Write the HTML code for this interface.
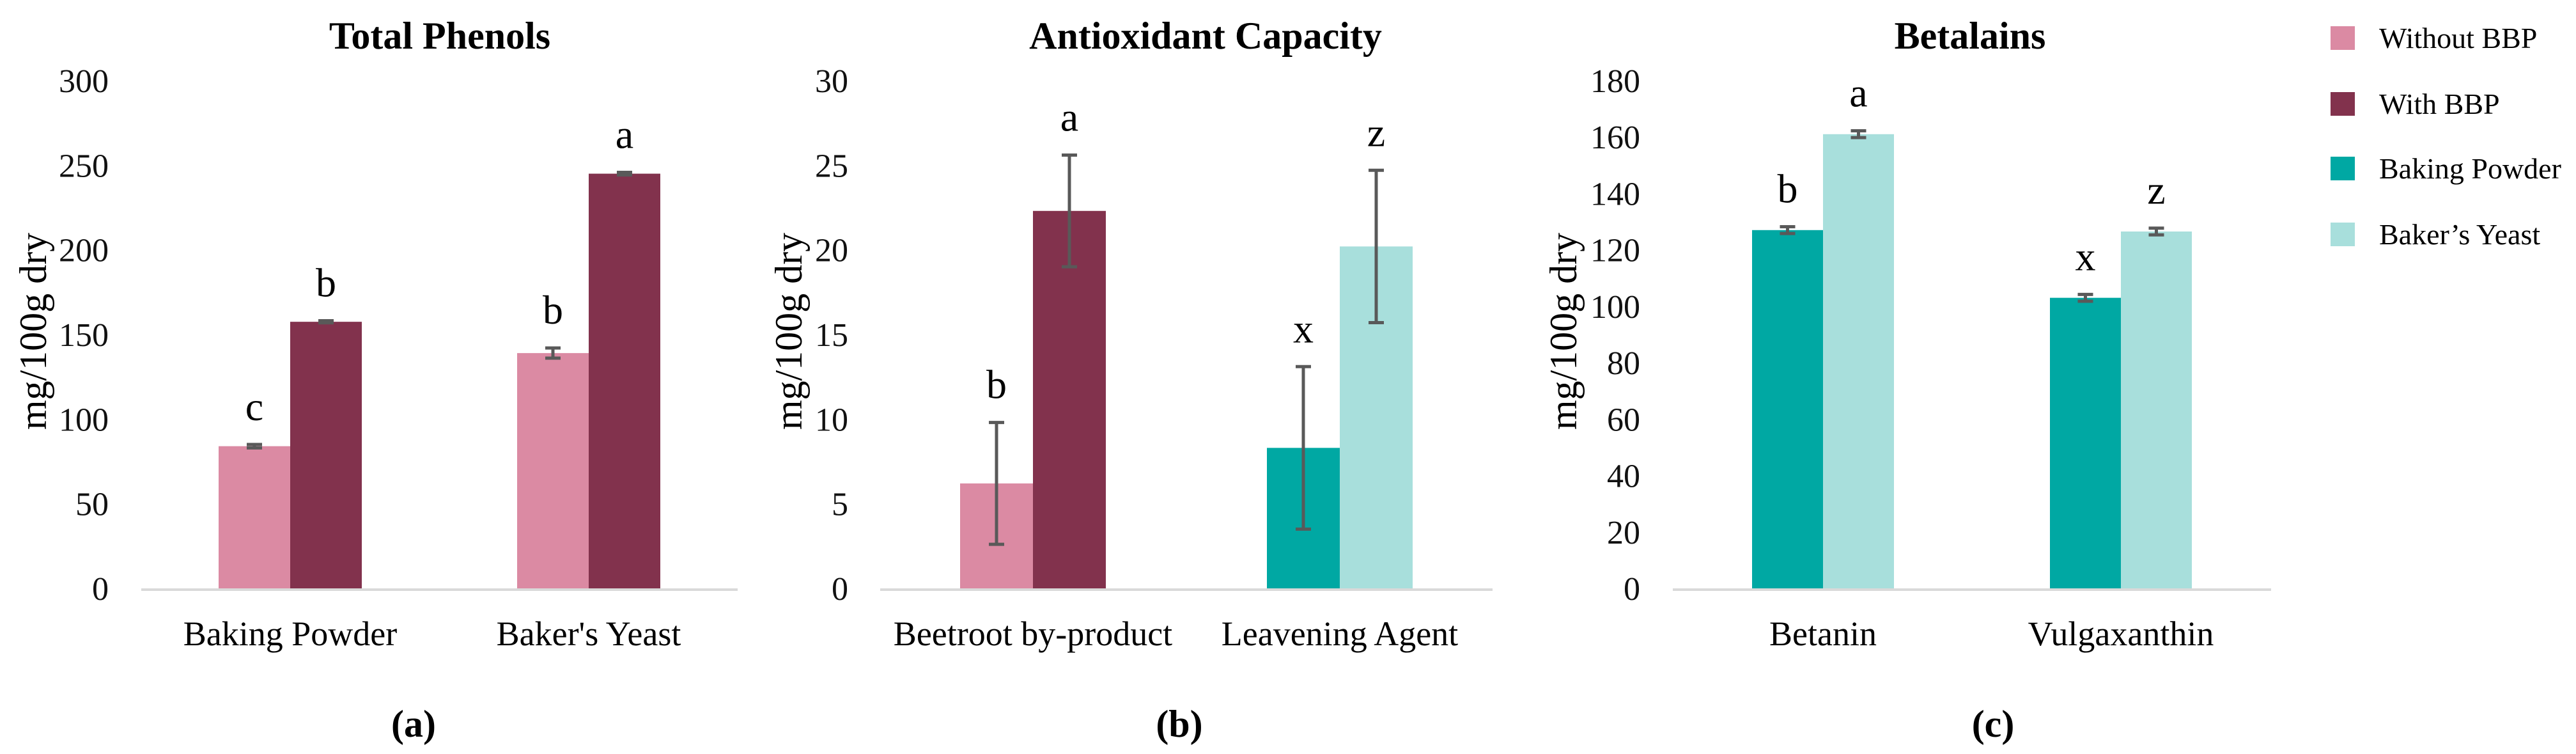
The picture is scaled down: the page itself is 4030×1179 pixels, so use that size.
<!DOCTYPE html>
<html><head><meta charset="utf-8"><style>
html,body{margin:0;padding:0;background:#fff;}
svg{display:block;font-family:"Liberation Serif",serif;}
</style></head><body>
<svg id="chart" width="4030" height="1179" viewBox="0 0 4030 1179" xmlns="http://www.w3.org/2000/svg"></svg>
<script>
const colors = ["#db8aa3","#82324d","#00a8a3","#a8dfdc"];
// Panel (a) Total Phenols
const catsA = ["Baking Powder","Baker's Yeast"];
const valsA = [[84,157.5],[139,245]];
const errsA = [[1,0.6],[3,0.8]];
const lettersA = [["c","b"],["b","a"]];
const ticksA = [0,50,100,150,200,250,300];
// Panel (b) Antioxidant Capacity
const catsB = ["Beetroot by-product","Leavening Agent"];
const valsB = [[6.2,22.3],[8.3,20.2]];
const errsB = [[3.6,3.3],[4.8,4.5]];
const lettersB = [["b","a"],["x","z"]];
const ticksB = [0,5,10,15,20,25,30];
// Panel (c) Betalains
const catsC = ["Betanin","Vulgaxanthin"];
const valsC = [[127,161],[103,126.5]];
const errsC = [[1.2,1.2],[1.2,1.2]];
const lettersC = [["b","a"],["x","z"]];
const ticksC = [0,20,40,60,80,100,120,140,160,180];
const legendLabels = ["Without BBP","With BBP","Baking Powder","Baker\u2019s Yeast"];

const svg = document.getElementById('chart');
const NS = "http://www.w3.org/2000/svg";
function mk(tag, attrs, parent){const e=document.createElementNS(NS,tag);for(const k in attrs)e.setAttribute(k,attrs[k]);(parent||svg).appendChild(e);return e;}
function txt(s, attrs, parent){const e=mk('text',attrs,parent);e.textContent=s;return e;}

function panel(cfg){
  const g=mk('g',{});
  
  
  const y0=920, y1=126, max=cfg.ticks[cfg.ticks.length-1];
  const yS=v=>y0-(v/max)*(y0-y1);
  const t=txt(cfg.title,{x:cfg.titleX,y:76,'text-anchor':'middle','font-size':60,'font-weight':'bold'},g);
  
  
  cfg.ticks.forEach(v=>{
    const l=txt(String(v),{x:cfg.tickX,y:yS(v)+18,'text-anchor':'end','font-size':52,fill:'#111'},g);
    
    
  });
  const yl=txt('mg/100g dry',{x:0,y:0,transform:`translate(${cfg.ylabX},518) rotate(-90)`,'text-anchor':'middle','font-size':60},g);
  
  
  const ax=mk('line',{x1:cfg.axX0,x2:cfg.axX1,y1:y0+2,y2:y0+2,stroke:'#d9d9d9','stroke-width':4},g);
  
  
  cfg.cats.forEach((c,i)=>{
    const gx=cfg.groupX[i];
    for(let j=0;j<2;j++){
      const v=cfg.vals[i][j], e=cfg.errs[i][j];
      const x=gx+j*cfg.bw;
      const r=mk('rect',{x:x,y:yS(v),width:cfg.bw,height:y0-yS(v),fill:colors[cfg.colIdx[i][j]]},g);
      
      
      const cx=x+cfg.bw/2;
      const eb=mk('path',{d:`M${cx-12},${yS(v+e)}H${cx+12}M${cx},${yS(v+e)}V${yS(v-e)}M${cx-12},${yS(v-e)}H${cx+12}`,stroke:'#595959','stroke-width':5,fill:'none'},g);
      
      
      const lt=txt(cfg.letters[i][j],{x:cx,y:yS(v+e)-38,'text-anchor':'middle','font-size':64},g);
      
      
    }
    const cl=txt(c,{x:gx+cfg.bw,y:1009,'text-anchor':'middle','font-size':54},g);
    
    
  });
  const pl=txt(cfg.label,{x:cfg.labelX,y:1152,'text-anchor':'middle','font-size':60,'font-weight':'bold'},g);
  
  
}

panel({name:'panel-a-total-phenols',title:'Total Phenols',titleX:688,tickX:170,ylabX:72,axX0:221,axX1:1154,
  cats:catsA,vals:valsA,errs:errsA,letters:lettersA,ticks:ticksA,groupX:[342,809],bw:112,colIdx:[[0,1],[0,1]],label:'(a)',labelX:647});
panel({name:'panel-b-antioxidant-capacity',title:'Antioxidant Capacity',titleX:1886,tickX:1327,ylabX:1254,axX0:1377,axX1:2335,
  cats:catsB,vals:valsB,errs:errsB,letters:lettersB,ticks:ticksB,groupX:[1502,1982],bw:114,colIdx:[[0,1],[2,3]],label:'(b)',labelX:1845});
panel({name:'panel-c-betalains',title:'Betalains',titleX:3082,tickX:2566,ylabX:2466,axX0:2617,axX1:3553,
  cats:catsC,vals:valsC,errs:errsC,letters:lettersC,ticks:ticksC,groupX:[2741,3207],bw:111,colIdx:[[2,3],[2,3]],label:'(c)',labelX:3118});

const lg=mk('g',{});


const legY=[41,144,245,348];
legendLabels.forEach((s,i)=>{
  const r=mk('rect',{x:3646,y:legY[i],width:38,height:37,fill:colors[i]},lg);
  
  
  const t=txt(s,{x:3722,y:legY[i]+34,'font-size':46},lg);
  
  
});
</script>
</body></html>
